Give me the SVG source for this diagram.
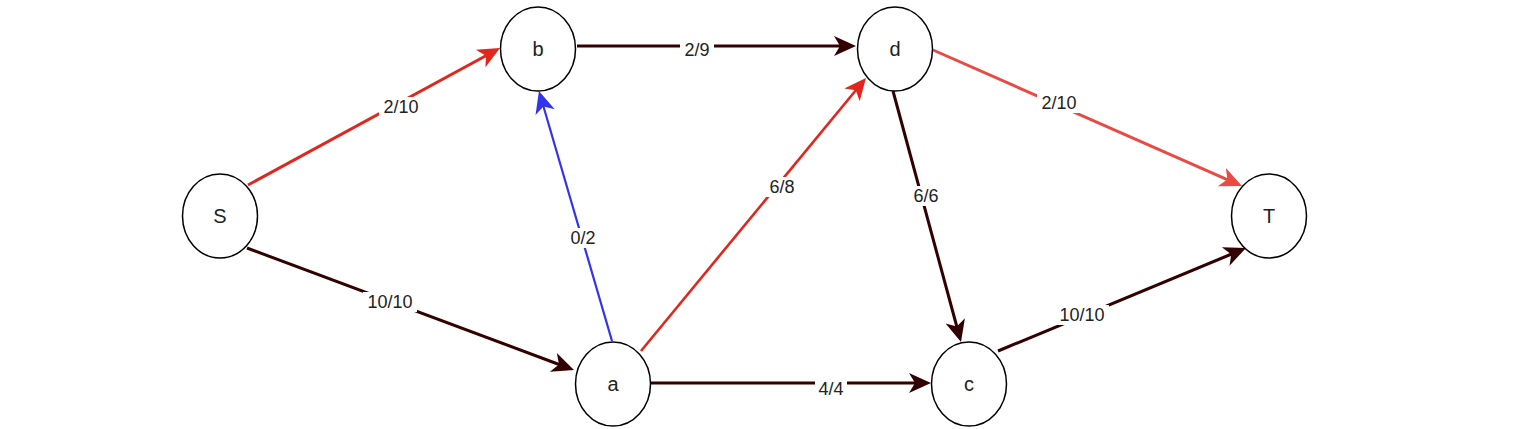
<svg xmlns="http://www.w3.org/2000/svg" width="1536" height="429" viewBox="0 0 1536 429">
<style>
.node ellipse{fill:#ffffff;stroke:#000000;stroke-width:1.5}
.node text{font-family:"Liberation Sans",Arial,sans-serif;font-size:20px;fill:#222222;text-anchor:middle;dominant-baseline:central}
.edge{fill:none;stroke-width:3}
.dark{stroke:#330000}
.red{stroke:#e0261d}
.lred{stroke:#e94b44}
.blue{stroke:#3333ee;stroke-width:2.2}
.lbl rect{fill:#ffffff}
.lbl text{font-family:"Liberation Sans",Arial,sans-serif;font-size:18px;fill:#222222;text-anchor:middle;dominant-baseline:central}
</style>
<defs>
<marker id="mDark" markerUnits="userSpaceOnUse" viewBox="-10 -11 24 22" refX="0" refY="0" markerWidth="24" markerHeight="22" orient="auto" overflow="visible"><path d="M13,0 L-9,-10 L-3,0 L-9,10 Z" fill="#330000"/></marker>
<marker id="mRed" markerUnits="userSpaceOnUse" viewBox="-10 -11 24 22" refX="0" refY="0" markerWidth="24" markerHeight="22" orient="auto" overflow="visible"><path d="M13,0 L-9,-10 L-3,0 L-9,10 Z" fill="#e0261d"/></marker>
<marker id="mLRed" markerUnits="userSpaceOnUse" viewBox="-10 -11 24 22" refX="0" refY="0" markerWidth="24" markerHeight="22" orient="auto" overflow="visible"><path d="M13,0 L-9,-10 L-3,0 L-9,10 Z" fill="#e94b44"/></marker>
<marker id="mBlue" markerUnits="userSpaceOnUse" viewBox="-10 -11 24 22" refX="0" refY="0" markerWidth="24" markerHeight="22" orient="auto" overflow="visible"><path d="M13,0 L-9,-10 L-3,0 L-9,10 Z" fill="#3333ee"/></marker>
</defs>
<rect width="1536" height="429" fill="#ffffff"/>
<g id="connectors">
<path class="edge red" d="M248,185 L488.6,54.2" marker-end="url(#mRed)"/>
<path class="edge dark" d="M247,248 L561.8,365.5" marker-end="url(#mDark)"/>
<path class="edge dark" d="M577,46 L843,46" marker-end="url(#mDark)"/>
<path class="edge blue" d="M612,341 L542.6,103.5" marker-end="url(#mBlue)"/>
<path class="edge red" d="M641,351 L857.7,88" marker-end="url(#mRed)" style="stroke-width:2.6"/>
<path class="edge lred" d="M933,50 L1230.1,180.8" marker-end="url(#mLRed)"/>
<path class="edge dark" d="M893,91 L957.6,329.5" marker-end="url(#mDark)"/>
<path class="edge dark" d="M651,383 L918,383" marker-end="url(#mDark)"/>
<path class="edge dark" d="M998,351 L1234,253" marker-end="url(#mDark)"/>
<g class="lbl"><rect x="379" y="97" width="44" height="20"/><text x="401" y="107">2/10</text></g>
<g class="lbl"><rect x="363" y="292" width="54" height="20"/><text x="390" y="302">10/10</text></g>
<g class="lbl"><rect x="680" y="40" width="34" height="20"/><text x="697" y="50">2/9</text></g>
<g class="lbl"><rect x="566" y="228" width="34" height="20"/><text x="583" y="238">0/2</text></g>
<g class="lbl"><rect x="765" y="177" width="34" height="20"/><text x="782" y="187">6/8</text></g>
<g class="lbl"><rect x="1037" y="93" width="44" height="20"/><text x="1059" y="103">2/10</text></g>
<g class="lbl"><rect x="909" y="186" width="34" height="20"/><text x="926" y="196">6/6</text></g>
<g class="lbl"><rect x="815" y="379" width="32" height="20"/><text x="831" y="389">4/4</text></g>
<g class="lbl"><rect x="1055" y="305" width="54" height="20"/><text x="1082" y="315">10/10</text></g>
</g>
<g id="node-S" class="node"><ellipse cx="220" cy="216" rx="37.5" ry="42"/><text x="220" y="216">S</text></g>
<g id="node-b" class="node"><ellipse cx="538" cy="49" rx="37.5" ry="42"/><text x="538" y="49">b</text></g>
<g id="node-d" class="node"><ellipse cx="895" cy="49" rx="37.5" ry="42"/><text x="895" y="49">d</text></g>
<g id="node-T" class="node"><ellipse cx="1269" cy="216" rx="37.5" ry="42"/><text x="1269" y="216">T</text></g>
<g id="node-a" class="node"><ellipse cx="613" cy="384" rx="37.5" ry="42"/><text x="613" y="384">a</text></g>
<g id="node-c" class="node"><ellipse cx="969" cy="384" rx="37.5" ry="42"/><text x="969" y="384">c</text></g>
</svg>
